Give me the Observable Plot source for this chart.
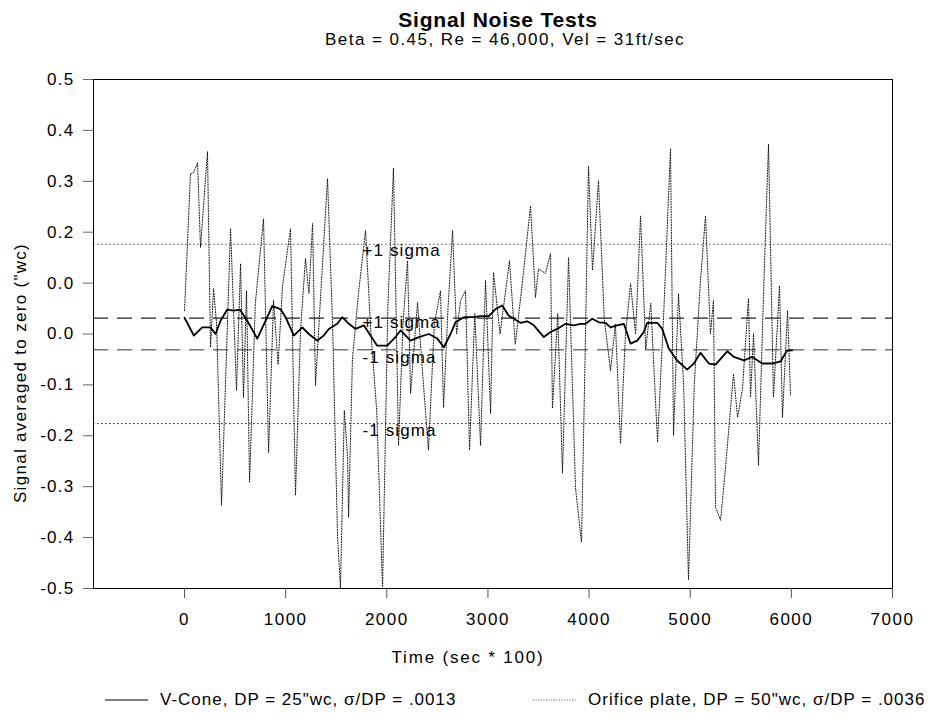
<!DOCTYPE html>
<html><head><meta charset="utf-8">
<script src="https://cdn.jsdelivr.net/npm/d3@7"></script>
<script src="https://cdn.jsdelivr.net/npm/@observablehq/plot@0.6"></script>
<style>
body{margin:0;background:#fff;font-family:"Liberation Sans",Arial,sans-serif;color:#000;}
#wrap{position:relative;width:941px;height:717px;overflow:hidden;}
#chart{position:absolute;left:0;top:0;}
.t{position:absolute;text-align:center;line-height:1;white-space:nowrap;}
#title{left:0;width:996px;top:9px;font-size:21px;font-weight:bold;letter-spacing:0.8px;}
#subtitle{left:0;width:1010px;top:31px;font-size:17px;letter-spacing:1.45px;}
.leg{position:absolute;top:691px;height:18px;display:flex;align-items:center;font-size:17px;letter-spacing:1.0px;white-space:nowrap;}
.leg svg{margin-right:12px;}
</style></head>
<body><div id="wrap">
<div class="t" id="title"></div>
<div class="t" id="subtitle"></div>
<div id="chart"></div>
<div class="leg" id="leg1" style="left:105px"></div>
<div class="leg" id="leg2" style="left:533px"></div>
</div>
<script>
const titleText = "Signal Noise Tests";
const subtitleText = "Beta = 0.45, Re = 46,000, Vel = 31ft/sec";
const xLabel = "Time (sec * 100)";
const yLabel = "Signal averaged to zero (\"wc)";
const seriesNames = ["V-Cone, DP = 25\"wc, \u03c3/DP = .0013", "Orifice plate, DP = 50\"wc, \u03c3/DP = .0036"];
const xTicks = [0, 1000, 2000, 3000, 4000, 5000, 6000, 7000];
const yTicks = [0.5, 0.4, 0.3, 0.2, 0.1, 0.0, -0.1, -0.2, -0.3, -0.4, -0.5];
const yTickLabels = ["0.5", "0.4", "0.3", "0.2", "0.0", "0.0", "-0.1", "-0.2", "-0.3", "-0.4", "-0.5"];

// V-Cone (time, signal)
const vconeT = [0,92,175,257,307,356,422,487,547,620,719,801,867,949,999,1081,1164,1229,1312,1377,1427,1510,1559,1625,1691,1773,1839,1905,2004,2086,2136,2234,2317,2415,2499,2564,2630,2679,2762,2860,2927,3009,3075,3141,3206,3256,3322,3388,3454,3553,3619,3685,3767,3849,3915,3965,4031,4097,4163,4212,4278,4344,4410,4476,4541,4575,4674,4723,4789,4871,4970,5036,5102,5184,5250,5366,5431,5530,5613,5712,5811,5893,5959,6008];
const vconeV = [0.032,-0.003,0.013,0.013,0.000,0.026,0.048,0.046,0.048,0.026,-0.009,0.026,0.055,0.049,0.033,-0.003,0.013,0.000,-0.013,-0.003,0.010,0.020,0.033,0.020,0.010,0.017,-0.003,-0.023,-0.023,-0.006,0.007,-0.013,-0.006,0.000,-0.009,-0.026,0.000,0.023,0.033,0.033,0.035,0.035,0.049,0.056,0.036,0.030,0.022,0.025,0.017,-0.006,0.004,0.010,0.020,0.017,0.020,0.020,0.030,0.023,0.022,0.013,0.017,0.020,-0.019,-0.013,0.004,0.022,0.022,0.010,-0.029,-0.052,-0.070,-0.058,-0.037,-0.058,-0.060,-0.034,-0.045,-0.052,-0.045,-0.058,-0.058,-0.054,-0.032,-0.032];

// Orifice plate (time, signal)
const orificeT = [0,59,89,129,158,227,257,287,317,366,455,514,554,583,613,643,700,781,831,880,925,969,1048,1097,1147,1196,1230,1266,1295,1350,1414,1465,1513,1542,1580,1612,1622,1660,1720,1790,1840,1900,1958,2010,2066,2116,2160,2205,2235,2304,2355,2412,2470,2531,2561,2605,2650,2690,2729,2778,2818,2870,2927,2976,3026,3055,3120,3213,3270,3340,3421,3470,3500,3569,3619,3638,3690,3737,3797,3866,3925,3960,3994,4034,4093,4150,4212,4260,4311,4360,4410,4460,4509,4560,4610,4677,4740,4805,4835,4884,4935,4983,5040,5100,5151,5200,5230,5250,5300,5349,5428,5468,5517,5576,5596,5626,5675,5725,5774,5823,5883,5912,5962,5992];
const orificeV = [0.046,0.315,0.317,0.336,0.170,0.358,-0.026,0.089,0.020,-0.336,0.207,-0.111,0.138,-0.125,0.085,-0.291,0.060,0.226,-0.233,0.066,-0.060,0.095,0.207,-0.317,0.007,0.148,0.080,0.217,-0.101,0.090,0.305,0.010,-0.399,-0.499,-0.150,-0.242,-0.360,-0.050,0.080,0.203,0.010,-0.150,-0.497,0.050,0.326,-0.219,0.020,0.144,-0.117,0.062,-0.080,-0.228,0.020,0.085,-0.144,0.050,0.203,0.000,0.066,0.085,-0.228,0.040,-0.219,0.105,-0.156,0.121,0.000,0.144,-0.020,0.100,0.252,0.072,0.128,0.119,0.158,-0.146,0.040,-0.273,0.150,-0.303,-0.409,-0.050,0.330,0.125,0.301,0.030,-0.072,0.020,-0.215,0.000,0.099,0.000,0.232,-0.030,0.060,-0.213,0.050,0.364,-0.199,0.079,-0.100,-0.483,-0.100,0.100,0.232,0.000,0.066,-0.340,-0.366,-0.262,-0.078,-0.164,-0.107,0.070,-0.124,0.001,-0.258,0.080,0.373,-0.124,0.095,-0.164,0.046,-0.120];

const sigmaT = [1760, 1760, 1760, 1760];
const sigmaV = [0.164, 0.023, -0.046, -0.189];
const sigmaText = ["+1 sigma", "+1 sigma", "-1 sigma", "-1 sigma"];
const orificeSigma = [0.176, -0.176];
const vconeSigma = [0.031, -0.031];

const vcone = vconeT.map((t, i) => ({t, v: vconeV[i]}));
const orifice = orificeT.map((t, i) => ({t, v: orificeV[i]}));
const sigmaLabels = sigmaT.map((t, i) => ({t, v: sigmaV[i], s: sigmaText[i]}));

document.getElementById("title").textContent = titleText;
document.getElementById("subtitle").textContent = subtitleText;

const chart = Plot.plot({
  width: 941,
  height: 680,
  marginTop: 79,
  marginBottom: 92,
  marginLeft: 93,
  marginRight: 49,
  style: {fontFamily: "'Liberation Sans', Arial, sans-serif", fontSize: "17px", background: "transparent", color: "#000"},
  x: {domain: [-900, 7000]},
  y: {domain: [-0.5, 0.5]},
  marks: [
    Plot.ruleY([orificeSigma[0]], {stroke: "#777", strokeDasharray: "1.5,2.5", strokeWidth: 1.2}),
    Plot.ruleY([orificeSigma[1]], {stroke: "#222", strokeDasharray: "1.5,2.5", strokeWidth: 1}),
    Plot.ruleY([vconeSigma[0]], {stroke: "#222", strokeDasharray: "15,9", strokeWidth: 1.3}),
    Plot.ruleY([vconeSigma[1]], {stroke: "#777", strokeDasharray: "15,9", strokeWidth: 1.6}),
    Plot.line(orifice, {x: "t", y: "v", stroke: "#111", strokeWidth: 1, strokeDasharray: "1,1.6", clip: true}),
    Plot.line(vcone, {x: "t", y: "v", stroke: "#000", strokeWidth: 1.8}),
    Plot.text(sigmaLabels, {x: "t", y: "v", text: "s", textAnchor: "start", fontSize: 17, fill: "#000"}),
    Plot.frame({stroke: "#000", strokeWidth: 1}),
    Plot.axisX({ticks: xTicks, tickSize: 10, tickPadding: 14, fontSize: 17, stroke: "#555", label: null, tickFormat: d => String(d)}),
    Plot.axisY({ticks: yTicks, tickSize: 10, tickPadding: 9, fontSize: 17, stroke: "#666", label: null, tickFormat: d => yTickLabels[yTicks.indexOf(d)]}),
    Plot.text([xLabel], {frameAnchor: "bottom", textAnchor: "middle", dx: -25, dy: 74, fontSize: 17}),
    Plot.text([yLabel], {frameAnchor: "left", textAnchor: "middle", rotate: -90, dx: -73, dy: 39, fontSize: 17})
  ]
});
document.getElementById("chart").appendChild(chart);

// wider letter spacing to match the reference's wide sans-serif glyphs
chart.style.letterSpacing = "1.25px";
chart.querySelectorAll("text").forEach(t => {
  const s = t.textContent;
  if (s === xLabel) t.style.letterSpacing = "1.8px";
  else if (s === yLabel) t.style.letterSpacing = "1.3px";
  else if (/^\d+$/.test(s)) t.style.letterSpacing = "1.5px";
  else if (/sigma/.test(s)) t.style.letterSpacing = "1.1px";
});

function legendItem(id, name, dash) {
  const el = document.getElementById(id);
  const ns = "http://www.w3.org/2000/svg";
  const s = document.createElementNS(ns, "svg");
  s.setAttribute("width", "43"); s.setAttribute("height", "4");
  const l = document.createElementNS(ns, "line");
  l.setAttribute("x1", "0"); l.setAttribute("x2", "43"); l.setAttribute("y1", "2"); l.setAttribute("y2", "2");
  l.setAttribute("stroke", dash ? "#555" : "#000");
  l.setAttribute("stroke-width", dash ? "1" : "1.2");
  if (dash) l.setAttribute("stroke-dasharray", "1,1.6");
  s.appendChild(l);
  el.appendChild(s);
  const sp = document.createElement("span");
  sp.textContent = name;
  el.appendChild(sp);
}
legendItem("leg1", seriesNames[0], false);
legendItem("leg2", seriesNames[1], true);
</script>
</body></html>
